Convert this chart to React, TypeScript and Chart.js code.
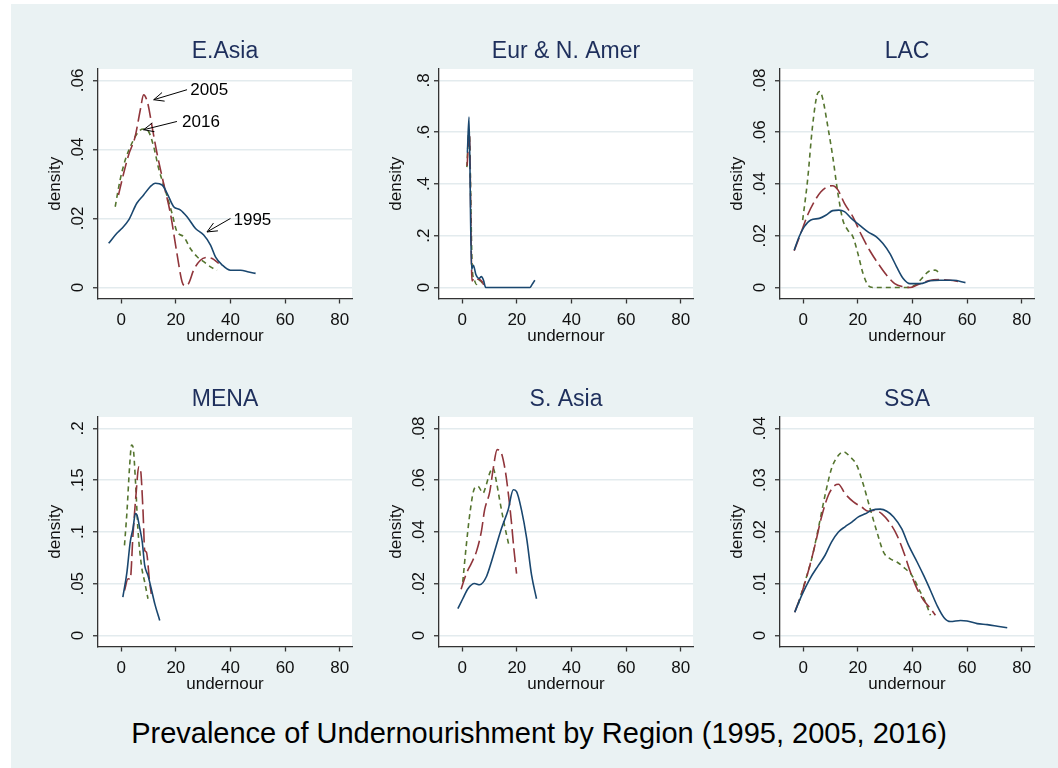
import React, { useEffect, useRef } from 'react';
import { Chart, registerables } from 'chart.js';

Chart.register(...registerables);

// ---------- data ----------
const X_TICKS = [0, 20, 40, 60, 80];
const X_MIN = -8.5;
const X_MAX = 84.5;
const SERIES_LABELS = ['1995', '2005', '2016'];
const REGIONS = ['E.Asia', 'Eur & N. Amer', 'LAC', 'MENA', 'S. Asia', 'SSA'];
const MAIN_TITLE = 'Prevalence of Undernourishment by Region (1995, 2005, 2016)';

const EASIA_YTICKS = [0, 0.02, 0.04, 0.06];
const EASIA_1995: [number, number][] = [[-4.6,.0128],[-1.6,.0157],[0.2,.0171],[2.7,.0195],[5.7,.0244],[8.2,.0268],[10.6,.0292],[12.5,.0302],[15,.0297],[16.8,.0273],[19.2,.0234],[21.6,.0225],[24.1,.0205],[27.2,.0171],[30.2,.0152],[32.7,.0123],[34.5,.0089],[37,.0065],[40,.005],[43.7,.005],[46.7,.0045],[49.2,.0041]];
const EASIA_2005: [number, number][] = [[-1,.0268],[0.9,.0331],[2.7,.0384],[5.1,.0437],[7,.0515],[8.2,.0558],[9.7,.0534],[11.3,.0466],[13.1,.0389],[15.5,.0302],[18,.0215],[20.4,.0099],[22.3,.0016],[23.5,.0005],[24.7,.0012],[26.5,.005],[29,.0079],[31.4,.0087],[33.3,.0084],[35.7,.007]];
const EASIA_2016: [number, number][] = [[-2.2,.0234],[-0.4,.0312],[1.5,.037],[3.9,.0418],[6.4,.0452],[8.2,.0459],[10,.0452],[11.9,.0408],[13.7,.0345],[16.1,.0283],[18.6,.0215],[20.4,.0162],[22.9,.0147],[25.3,.0113],[27.8,.0089],[30.2,.0075],[32.7,.006],[35.1,.005]];
const EASIA_NOTES = [
  { text: '2005', tail: [24.1, 0.0573], head: [11.9, 0.0544], at: [25.3, 0.0570] },
  { text: '2016', tail: [20.4, 0.0481], head: [8.2, 0.0457], at: [22.3, 0.0479] },
  { text: '1995', tail: [40, 0.0200], head: [31.4, 0.0161], at: [41.1, 0.0195] },
];

const EUR_YTICKS = [0, 0.2, 0.4, 0.6, 0.8];
const EUR_1995: [number, number][] = [[1.9,.52],[2.5,.658],[3.4,.07],[4.1,.086],[5.0,.05],[6.2,.035],[7.0,.042],[7.8,.028],[8.6,0],[12,0],[16,0],[20,0],[24.8,0],[25.6,.012],[26.6,.028]];
const EUR_2005: [number, number][] = [[1.8,.47],[2.6,.6],[3.6,.025],[4.5,.038],[5.5,.033],[6.5,.03],[7.3,.022],[7.9,.01]];
const EUR_2016: [number, number][] = [[1.7,.465],[2.5,.61],[3.7,.07],[4.4,.03],[5.2,.012],[6.0,.028],[6.8,.025],[7.5,.015]];

const LAC_YTICKS = [0, 0.02, 0.04, 0.06, 0.08];
const LAC_1995: [number, number][] = [[-3.3,.0144],[-1.5,.0196],[0.4,.0235],[2.8,.0261],[5.9,.0267],[8.4,.028],[10.8,.0297],[13,.0299],[15.1,.0293],[17.6,.0267],[20.6,.0241],[23.7,.0215],[26.8,.0196],[29.2,.017],[31.7,.0132],[34.2,.008],[36.6,.0035],[39.1,.0015],[42.8,.0015],[46.5,.0026],[50.1,.0028],[55,.0028],[59.4,.0019]];
const LAC_2005: [number, number][] = [[-3.3,.0142],[-0.9,.0209],[1.6,.028],[4,.0331],[6.5,.037],[9,.039],[10.8,.0393],[12.7,.0377],[15.1,.0325],[18.2,.0273],[21.3,.0203],[24.3,.0144],[27.4,.0093],[30.5,.0048],[33.5,.0015],[36.6,.0003],[39.1,0],[42.1,.0012],[45.8,.0026],[49.5,.0031],[53.8,.0028],[57.5,.0022]];
const LAC_2016: [number, number][] = [[-0.2,.026],[1.6,.0415],[3.4,.0622],[5.3,.0751],[6.1,.0757],[7.1,.0731],[9,.0622],[10.8,.0506],[12.7,.0364],[14.5,.0261],[16.3,.0222],[18.2,.0196],[20,.0132],[21.9,.0054],[23.7,.0009],[25.6,0],[37.8,0],[40.9,.0009],[43.4,.0035],[45.8,.0061],[48.3,.0067],[50.1,.0054]];

const MENA_YTICKS = [0, 0.05, 0.1, 0.15, 0.2];
const MENA_1995: [number, number][] = [[0.6,.0371],[2.1,.0613],[3.3,.0903],[4.3,.1032],[5.2,.1177],[5.8,.1161],[6.7,.1048],[7.7,.0903],[8.6,.0677],[9.8,.0581],[11,.0452],[12.3,.0306],[14.1,.0145]];
const MENA_2005: [number, number][] = [[1.2,.0435],[2.5,.0548],[3.3,.0542],[4.3,.0968],[5.5,.1387],[6.4,.1629],[7,.1613],[8,.1194],[8.6,.0823],[9.2,.0806],[10.4,.0516],[11,.0403]];
const MENA_2016: [number, number][] = [[1.2,.0871],[2.1,.1194],[3.1,.1645],[3.8,.1839],[4.3,.1823],[5.3,.1452],[6.1,.1032],[7.4,.0677],[8.6,.0516],[9.8,.0355]];

const SASIA_YTICKS = [0, 0.02, 0.04, 0.06, 0.08];
const SASIA_1995: [number, number][] = [[-1.6,.0104],[0.2,.0142],[2.1,.0181],[4.5,.0201],[6.4,.0196],[8.8,.0226],[10.7,.0285],[12.5,.0349],[14.4,.0414],[16.8,.0485],[18.7,.0563],[19.9,.0556],[21.7,.0485],[23.6,.0375],[25.4,.0233],[27.2,.0142]];
const SASIA_2005: [number, number][] = [[-0.4,.0179],[1.5,.0239],[3.3,.0278],[5.2,.0324],[7,.0401],[8.2,.0485],[10.1,.0556],[11.3,.0641],[12.8,.0718],[14,.0712],[15.6,.0647],[16.8,.0556],[18,.044],[18.9,.0336],[19.9,.0239]];
const SASIA_2016: [number, number][] = [[0.2,.0207],[1.5,.0349],[2.9,.0479],[4.5,.0569],[5.8,.0576],[7.6,.055],[8.8,.0582],[10.1,.0628],[11.3,.0647],[12.5,.0595],[13.7,.0524],[15.2,.044],[17.2,.0343]];

const SSA_YTICKS = [0, 0.01, 0.02, 0.03, 0.04];
const SSA_1995: [number, number][] = [[-3.1,.0045],[-0.6,.0077],[2.5,.011],[5.5,.0135],[8,.0155],[10.4,.0181],[12.9,.02],[15.3,.021],[17.8,.0219],[20.2,.0229],[22.7,.0235],[25.1,.0242],[28.2,.0244],[30.6,.024],[33.1,.0229],[36.1,.0206],[38.6,.0174],[41.7,.0142],[44.1,.0116],[46.6,.0087],[49,.0058],[51.5,.0035],[53.9,.0027],[57.6,.0029],[60,.0028],[63.7,.0023],[67.4,.0021],[71.1,.0018],[74.7,.0015]];
const SSA_2005: [number, number][] = [[-3.1,.0045],[-0.6,.0081],[1.8,.0123],[4.3,.0174],[6.7,.0229],[9.2,.0271],[11.6,.029],[12.9,.0292],[15.3,.0274],[18.4,.0258],[21.4,.0248],[23.9,.024],[26.3,.0242],[28.8,.0235],[31.9,.0216],[34.3,.0194],[36.8,.0161],[39.2,.0123],[41.7,.009],[44.1,.0068],[46.6,.0052],[48.4,.0039]];
const SSA_2016: [number, number][] = [[-1.8,.0061],[0.6,.0103],[3.1,.0148],[5.5,.0206],[8,.0271],[10.4,.0323],[12.9,.0348],[14.7,.0355],[17.2,.0345],[19.6,.0329],[22.1,.029],[24.5,.0245],[27,.02],[29.4,.0161],[31.9,.0148],[34.3,.0142],[37.4,.0129],[39.8,.0116],[42.9,.0084],[44.7,.0065],[46.6,.0039]];

// ---------- styles ----------
const FONT = "'Liberation Sans', Arial, Helvetica, sans-serif";
const BG = '#eaf2f3';
const GRID = '#e3ebee';
const AXIS = '#333333';
const TEXT = '#111111';
const TITLE_COLOR = '#1e2f5c';
const COLORS = ['#1a476f', '#90353b', '#55752f'];
const DASHES: number[][] = [[], [14, 5], [5, 4]];

type Note = { text: string; tail: number[]; head: number[]; at: number[] };
type PanelDef = { title: string; yTicks: number[]; series: [number, number][][]; notes?: Note[] };

const PANELS: PanelDef[] = [
  { title: REGIONS[0], yTicks: EASIA_YTICKS, series: [EASIA_1995, EASIA_2005, EASIA_2016], notes: EASIA_NOTES },
  { title: REGIONS[1], yTicks: EUR_YTICKS, series: [EUR_1995, EUR_2005, EUR_2016] },
  { title: REGIONS[2], yTicks: LAC_YTICKS, series: [LAC_1995, LAC_2005, LAC_2016] },
  { title: REGIONS[3], yTicks: MENA_YTICKS, series: [MENA_1995, MENA_2005, MENA_2016] },
  { title: REGIONS[4], yTicks: SASIA_YTICKS, series: [SASIA_1995, SASIA_2005, SASIA_2016] },
  { title: REGIONS[5], yTicks: SSA_YTICKS, series: [SSA_1995, SSA_2005, SSA_2016] },
];

const CW = 334;
const CH = 330;

const fmtY = (v: number) => (v === 0 ? '0' : String(v).replace(/^0/, ''));

const plotBg = {
  id: 'plotBg',
  beforeDraw(chart: any) {
    const { ctx, chartArea } = chart;
    ctx.save();
    ctx.fillStyle = '#ffffff';
    ctx.fillRect(chartArea.left, chartArea.top, chartArea.right - chartArea.left, chartArea.bottom - chartArea.top);
    ctx.restore();
  },
};

const notesPlugin = (notes: Note[]) => ({
  id: 'notes',
  afterDatasetsDraw(chart: any) {
    const { ctx, scales } = chart;
    const x = scales.x;
    const y = scales.y;
    ctx.save();
    notes.forEach((n) => {
      const tx = x.getPixelForValue(n.tail[0]);
      const ty = y.getPixelForValue(n.tail[1]);
      const hx = x.getPixelForValue(n.head[0]);
      const hy = y.getPixelForValue(n.head[1]);
      ctx.strokeStyle = '#000';
      ctx.lineWidth = 1;
      ctx.beginPath();
      ctx.moveTo(tx, ty);
      ctx.lineTo(hx, hy);
      ctx.stroke();
      const ang = Math.atan2(hy - ty, hx - tx);
      const L = 11;
      const a = 0.42;
      ctx.beginPath();
      ctx.moveTo(hx - L * Math.cos(ang - a), hy - L * Math.sin(ang - a));
      ctx.lineTo(hx, hy);
      ctx.lineTo(hx - L * Math.cos(ang + a), hy - L * Math.sin(ang + a));
      ctx.stroke();
      ctx.fillStyle = '#000';
      ctx.font = `17px ${FONT}`;
      ctx.textAlign = 'left';
      ctx.textBaseline = 'middle';
      ctx.fillText(n.text, x.getPixelForValue(n.at[0]), y.getPixelForValue(n.at[1]));
    });
    ctx.restore();
  },
});

function Panel({ def, left, top }: { def: PanelDef; left: number; top: number }) {
  const ref = useRef<HTMLCanvasElement | null>(null);
  useEffect(() => {
    if (!ref.current) return;
    const topTick = def.yTicks[def.yTicks.length - 1];
    const chart = new Chart(ref.current, {
      type: 'line',
      data: {
        datasets: def.series.map((s, i) => ({
          label: SERIES_LABELS[i],
          data: s.map(([x, y]) => ({ x, y })),
          borderColor: COLORS[i],
          borderWidth: 1.6,
          borderDash: DASHES[i],
          pointRadius: 0,
          fill: false,
          cubicInterpolationMode: 'monotone' as const,
        })),
      },
      options: {
        animation: false,
        responsive: false,
        layout: { padding: { left: 0, right: 20, top: 0, bottom: 0 } },
        plugins: {
          legend: { display: false },
          tooltip: { enabled: false },
          title: {
            display: true,
            text: def.title,
            fullSize: false,
            color: TITLE_COLOR,
            font: { family: FONT, size: 23, weight: 'normal' as any },
            padding: { top: 8.9, bottom: 3.5 },
          },
        },
        scales: {
          x: {
            type: 'linear',
            min: X_MIN,
            max: X_MAX,
            afterBuildTicks: (s: any) => {
              s.ticks = X_TICKS.map((v) => ({ value: v }));
            },
            afterFit: (s: any) => {
              s.height = 60.5;
            },
            grid: { display: true, drawOnChartArea: false, drawTicks: true, tickLength: 5, tickColor: AXIS, tickWidth: 1.3 },
            border: { display: true, color: AXIS, width: 1.3 },
            ticks: { padding: 6.5, color: TEXT, font: { family: FONT, size: 17 }, maxRotation: 0, autoSkip: false },
            title: { display: true, text: 'undernour', color: TEXT, font: { family: FONT, size: 17 }, padding: { top: 0, bottom: 12 } },
          },
          y: {
            type: 'linear',
            min: -0.053 * topTick,
            max: 1.055 * topTick,
            afterBuildTicks: (s: any) => {
              s.ticks = def.yTicks.map((v) => ({ value: v }));
            },
            afterFit: (s: any) => {
              s.width = 60;
            },
            grid: { display: true, drawOnChartArea: true, color: GRID, lineWidth: 1.5, drawTicks: true, tickLength: 5, tickColor: AXIS, tickWidth: 1.3 },
            border: { display: true, color: AXIS, width: 1.3 },
            ticks: {
              padding: 3,
              minRotation: 90,
              maxRotation: 90,
              crossAlign: 'center',
              autoSkip: false,
              color: TEXT,
              font: { family: FONT, size: 17 },
              callback: (v: any) => fmtY(Number(v)),
            },
            title: { display: true, text: 'density', color: TEXT, font: { family: FONT, size: 17 }, padding: { top: 7.6, bottom: 0 } },
          },
        },
      } as any,
      plugins: def.notes ? [plotBg, notesPlugin(def.notes)] : [plotBg],
    });
    return () => chart.destroy();
  }, [def]);
  return (
    <canvas
      ref={ref}
      width={CW}
      height={CH}
      style={{ position: 'absolute', left, top, width: CW, height: CH }}
    />
  );
}

export default function App() {
  return (
    <div style={{ position: 'fixed', left: 0, top: 0, width: 1058, height: 768, background: '#ffffff', overflow: 'hidden' }}>
      <div style={{ position: 'absolute', left: 11, top: 4, right: 0, bottom: 0, background: BG }} />
      {PANELS.map((p, i) => {
        const c = i % 3;
        const r = Math.floor(i / 3);
        return <Panel key={p.title} def={p} left={38 + Math.round(340.8 * c)} top={29 + Math.round(347.7 * r)} />;
      })}
      <div
        style={{
          position: 'absolute',
          left: 0,
          width: 1078,
          top: 718.5,
          textAlign: 'center',
          fontFamily: FONT,
          fontSize: 29,
          lineHeight: '29px',
          color: '#000',
          whiteSpace: 'nowrap',
        }}
      >
        {MAIN_TITLE}
      </div>
    </div>
  );
}
